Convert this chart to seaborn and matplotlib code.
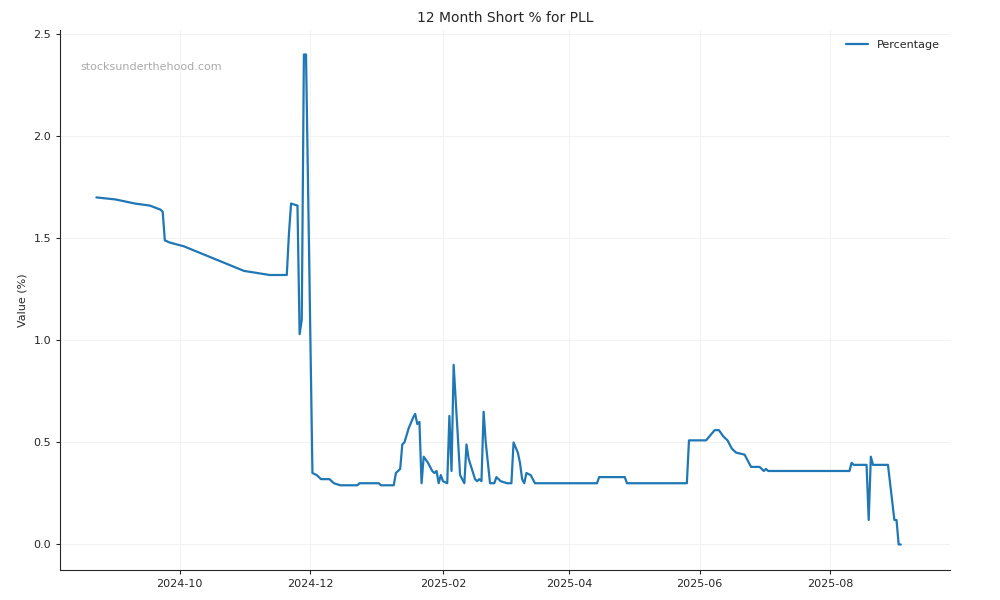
import matplotlib
matplotlib.use("Agg")
import matplotlib.pyplot as plt
import matplotlib.dates as mdates
import seaborn as sns
import pandas as pd

dates = ["2024-08-23","2024-09-01","2024-09-10","2024-09-17","2024-09-22","2024-09-23","2024-09-24","2024-09-26",
 "2024-10-03","2024-10-10","2024-10-17","2024-10-24","2024-10-31","2024-11-06","2024-11-12","2024-11-20",
 "2024-11-21","2024-11-22","2024-11-25","2024-11-26","2024-11-27","2024-11-28","2024-11-29","2024-12-02",
 "2024-12-04","2024-12-06","2024-12-10","2024-12-12","2024-12-15","2024-12-23","2024-12-24","2025-01-02",
 "2025-01-03","2025-01-09","2025-01-10","2025-01-12","2025-01-13","2025-01-14","2025-01-16","2025-01-18",
 "2025-01-19","2025-01-20","2025-01-21","2025-01-22","2025-01-23","2025-01-25","2025-01-27","2025-01-28",
 "2025-01-29","2025-01-30","2025-01-31","2025-02-01","2025-02-03","2025-02-04","2025-02-05","2025-02-06",
 "2025-02-07","2025-02-09","2025-02-11","2025-02-12","2025-02-13","2025-02-16","2025-02-17","2025-02-18",
 "2025-02-19","2025-02-20","2025-02-21","2025-02-23","2025-02-25","2025-02-26","2025-02-28","2025-03-03",
 "2025-03-05","2025-03-06","2025-03-08","2025-03-09","2025-03-10","2025-03-11","2025-03-12","2025-03-14",
 "2025-03-16","2025-04-14","2025-04-15","2025-04-27","2025-04-28","2025-05-26","2025-05-27","2025-06-04",
 "2025-06-08","2025-06-10","2025-06-12","2025-06-14","2025-06-16","2025-06-18","2025-06-22","2025-06-25",
 "2025-06-29","2025-07-01","2025-07-02","2025-07-03","2025-08-10","2025-08-11","2025-08-12","2025-08-18",
 "2025-08-19","2025-08-20","2025-08-21","2025-08-28","2025-08-31","2025-09-01","2025-09-02","2025-09-03"]
values = [1.70,1.69,1.67,1.66,1.64,1.63,1.49,1.48,
 1.46,1.43,1.40,1.37,1.34,1.33,1.32,1.32,
 1.52,1.67,1.66,1.03,1.10,2.40,2.40,0.35,
 0.34,0.32,0.32,0.30,0.29,0.29,0.30,0.30,
 0.29,0.29,0.35,0.37,0.49,0.50,0.57,0.62,
 0.64,0.59,0.60,0.30,0.43,0.40,0.36,0.35,
 0.36,0.30,0.34,0.31,0.30,0.63,0.36,0.88,
 0.70,0.34,0.30,0.49,0.42,0.32,0.31,0.32,
 0.31,0.65,0.50,0.30,0.30,0.33,0.31,0.30,
 0.30,0.50,0.45,0.40,0.32,0.30,0.35,0.34,
 0.30,0.30,0.33,0.33,0.30,0.30,0.51,0.51,
 0.56,0.56,0.53,0.51,0.47,0.45,0.44,0.38,
 0.38,0.36,0.37,0.36,0.36,0.40,0.39,0.39,
 0.12,0.43,0.39,0.39,0.12,0.12,0.0,0.0]

df = pd.DataFrame({"Date": pd.to_datetime(dates), "Percentage": values})

sns.set_style("white")
plt.rcParams['font.family'] = ['DejaVu Sans']
fig, ax = plt.subplots(figsize=(10, 6), dpi=100)
sns.lineplot(data=df, x="Date", y="Percentage", ax=ax, color="#1f77b4", linewidth=1.6, label="Percentage")
ax.set_title("12 Month Short % for PLL", fontsize=10)
ax.set_xlabel("")
ax.set_ylabel("Value (%)", fontsize=8)
ax.set_ylim(-0.125, 2.52)
ax.set_xlim(pd.Timestamp("2024-08-06"), pd.Timestamp("2025-09-26"))
ax.xaxis.set_major_locator(mdates.MonthLocator(bymonth=[2,4,6,8,10,12]))
ax.xaxis.set_major_formatter(mdates.DateFormatter("%Y-%m"))
ax.tick_params(labelsize=8, length=3, left=True, bottom=True)
ax.grid(True, color="#f0f0f0", linewidth=0.6)
sns.despine(ax=ax)
ax.text(0.023, 0.925, "stocksunderthehood.com", transform=ax.transAxes, fontsize=8, color="#aaaaaa")
ax.legend(loc="upper right", frameon=False, fontsize=8)
fig.subplots_adjust(left=0.06, right=0.95, top=0.95, bottom=0.05)
fig.savefig("out.png")
